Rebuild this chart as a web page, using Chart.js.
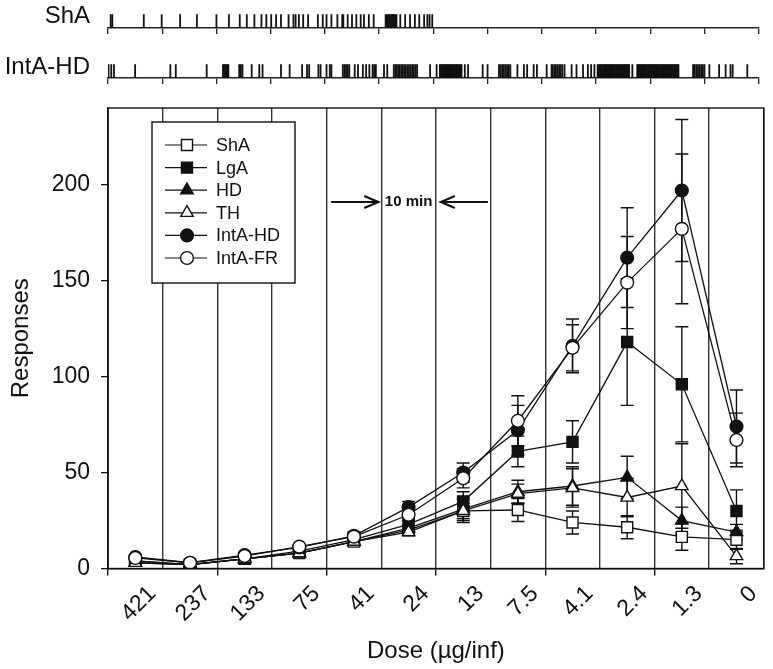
<!DOCTYPE html>
<html>
<head>
<meta charset="utf-8">
<script src="https://cdn.jsdelivr.net/npm/chart.js@4.4.1/dist/chart.umd.min.js"></script>
<style>
  html, body { margin: 0; padding: 0; background: #fff; }
  #wrap { position: relative; width: 773px; height: 669px; overflow: hidden; }
  canvas { position: absolute; left: 0; }
  .strip-label { position: absolute; font: 24px "Liberation Sans", Arial, sans-serif; color: #111; white-space: nowrap; }
</style>
</head>
<body>
<div id="wrap">
  <canvas id="mainChart" width="773" height="669" style="top:0"></canvas>
  <canvas id="shaStrip" width="773" height="45" style="top:0"></canvas>
  <canvas id="intaStrip" width="773" height="45" style="top:50px"></canvas>
  <div class="strip-label" style="right:683px; top:1px">ShA</div>
  <div class="strip-label" style="right:683px; top:52px">IntA-HD</div>
</div>
<script>
// dose per 10-min bin (descending schedule)
const doses = ["421", "237", "133", "75", "41", "24", "13", "7.5", "4.1", "2.4", "1.3", "0"];

// mean responses and SEM per group
const shaMean = [4, 2, 5, 8, 14, 20, 30, 30.5, 24, 21.5, 16.5, 15];
const shaSem = [1, 1, 1, 1, 2, 2, 4, 6, 6, 6, 7, 5];
const lgaMean = [4, 2, 5, 9, 15, 23, 35, 61, 66, 118, 96, 30];
const lgaSem = [1, 1, 1, 1.5, 2, 3, 5, 8, 11, 33, 30, 11];
const hdMean = [3, 2, 5, 8, 14, 21, 31, 40, 43, 47.5, 25, 19];
const hdSem = [1, 1, 1, 1, 2, 2, 6, 6, 10, 11, 7, 4];
const thMean = [3, 2, 5, 8, 14, 19, 30, 39, 42, 37, 43, 6.5];
const thSem = [1, 1, 1, 1, 2, 2, 6, 5, 10, 10, 22, 4];
const intaHdMean = [6, 3, 7, 11, 17, 32, 50, 72, 116, 162, 197, 74];
const intaHdSem = [1, 1, 1, 1, 2, 3, 5, 13, 14, 26, 37, 19];
const intaFrMean = [5.5, 3, 6.5, 11.4, 16.6, 28, 47, 77, 115, 149, 177, 67];
const intaFrSem = [1, 1, 1, 1, 2, 3, 5, 13, 12, 24, 39, 14];

// y ticks
const yMax = 240;
const yStep = 50;

// event records (minutes into the 120-min session)
const shaEvents = [0.5, 0.8, 6.6, 9.9, 13.3, 16.4, 20.0, 22.3, 24.3, 25.6, 27.0, 28.3, 29.2, 30.1, 31.0, 31.9,
  33.3, 34.2, 34.6, 35.2, 36.0, 36.9, 38.7, 39.6, 40.3, 41.2, 42.3, 43.2, 43.4, 44.2, 45.0, 45.8, 46.6, 47.2,
  48.1, 49.0, 51.2, 51.4, 51.6, 51.8, 52.0, 52.2, 52.4, 52.6, 52.8, 53.0, 53.2, 53.9, 54.8, 55.7, 56.6, 57.4,
  58.3, 58.9, 59.3, 59.8];
const intaHdEvents = [0.1, 0.6, 1.1, 5.0, 11.5, 12.5, 18.2, 21.2, 21.4, 21.6, 21.8, 22.0, 22.2, 24.2, 24.5, 24.8,
  26.5, 27.9, 28.5, 31.9, 33.5, 35.8, 36.7, 37.1, 38.8, 39.2,
  40.3, 40.9, 41.2, 43.3, 43.6, 43.9, 44.2, 44.5, 45.5, 46.1, 47.0, 47.6, 48.2, 48.8, 49.1, 49.4, 50.9, 51.5,
  52.7, 53.0, 53.2, 53.5, 53.8, 54.1, 54.3, 54.6, 54.9, 55.2, 55.5, 55.8, 56.1, 56.4, 56.7, 57.0,
  59.4, 60.6,
  61.2, 61.4, 61.6, 61.8, 62.0, 62.2, 62.4, 62.6, 62.8, 63.0, 63.2, 63.4, 63.6, 63.8, 64.0, 64.2, 64.4, 64.6,
  64.8, 65.0, 65.2,
  65.8, 66.4, 69.1, 70.0,
  72.1, 72.4, 72.7, 73.0, 73.3, 73.6, 73.9, 74.2,
  75.5, 76.7, 77.3, 78.5, 79.1,
  80.9, 81.8, 82.0, 82.3, 82.6, 82.9, 83.2, 83.5, 83.8, 84.2,
  85.5, 86.4, 87.6, 88.5, 89.1, 89.7,
  90.3, 90.5, 90.7, 90.9, 91.1, 91.3, 91.5, 91.7, 91.9, 92.1, 92.3, 92.5, 92.7, 92.9, 93.1, 93.3, 93.5, 93.7,
  93.9, 94.1, 94.3, 94.5, 94.7, 94.9, 95.1, 95.3, 95.5, 95.7, 95.9, 96.1,
  96.7,
  97.6, 97.8, 98.0, 98.2, 98.4, 98.6, 98.8, 99.0, 99.2, 99.4, 99.6, 99.8, 100.0, 100.2, 100.4, 100.6, 100.8,
  101.0, 101.2, 101.4, 101.6, 101.8, 102.0, 102.2, 102.4, 102.6, 102.8, 103.0, 103.2, 103.4, 103.6, 103.8,
  104.0, 104.2, 104.4, 104.6, 104.8, 105.0, 105.2,
  107.9, 108.2, 108.5, 108.8, 109.1, 109.4, 109.7, 110.0,
  110.9, 112.7, 113.9, 114.8, 115.2, 117.9];

const FONT = '"Liberation Sans", Arial, Helvetica, sans-serif';
Chart.defaults.font.family = FONT;
Chart.defaults.color = "#111";

function makeStrip(id, times) {
  return new Chart(document.getElementById(id), {
    type: "scatter",
    data: {
      datasets: [{
        data: times.map((t) => ({ x: t, y: 0.5 })),
        pointStyle: "line",
        rotation: 90,
        radius: 12.5,
        hoverRadius: 12.5,
        borderColor: "#111",
        borderWidth: 1.8,
      }],
    },
    options: {
      responsive: false,
      animation: false,
      events: [],
      layout: { padding: { left: 108, right: 5, top: 3, bottom: 0 } },
      plugins: { legend: { display: false }, tooltip: { enabled: false } },
      scales: {
        x: {
          type: "linear", min: 0, max: 120,
          afterFit: (s) => { s.height = 17; },
          ticks: { stepSize: 10, display: false },
          grid: { drawOnChartArea: false, drawTicks: true, tickLength: 6, color: "#222", lineWidth: 1.3 },
          border: { color: "#222", width: 1.4 },
        },
        y: { display: false, min: 0, max: 1 },
      },
    },
  });
}

// mean +/- SEM whiskers, drawn under the markers
const errorBars = {
  id: "errorBars",
  beforeDatasetsDraw(chart) {
    const { ctx, scales: { x, y } } = chart;
    ctx.save();
    ctx.strokeStyle = "#111";
    ctx.lineWidth = 1.4;
    chart.data.datasets.forEach((ds) => {
      ds.sem.forEach((e, i) => {
        const px = x.getPixelForValue(i);
        const top = y.getPixelForValue(ds.data[i] + e);
        const bot = y.getPixelForValue(Math.max(0, ds.data[i] - e));
        ctx.beginPath();
        ctx.moveTo(px, top); ctx.lineTo(px, bot);
        ctx.moveTo(px - 6.5, top); ctx.lineTo(px + 6.5, top);
        ctx.moveTo(px - 6.5, bot); ctx.lineTo(px + 6.5, bot);
        ctx.stroke();
      });
    });
    ctx.restore();
  },
};

// closed box around the plot
const frame = {
  id: "frame",
  afterDatasetsDraw(chart) {
    const { ctx, chartArea: a } = chart;
    ctx.save();
    ctx.strokeStyle = "#111";
    ctx.lineWidth = 1.4;
    ctx.strokeRect(a.left, a.top, a.right - a.left, a.bottom - a.top);
    ctx.restore();
  },
};

// "10 min" marker over the 24 ug bin
const tenMin = {
  id: "tenMin",
  afterDatasetsDraw(chart) {
    const { ctx, scales: { x, y } } = chart;
    const half = (x.getPixelForValue(1) - x.getPixelForValue(0)) / 2;
    const l = x.getPixelForValue(5) - half;
    const r = x.getPixelForValue(5) + half;
    const yy = y.getPixelForValue(191);
    ctx.save();
    ctx.strokeStyle = "#111";
    ctx.lineWidth = 2.2;
    ctx.beginPath();
    ctx.moveTo(l - 50, yy); ctx.lineTo(l - 3, yy);
    ctx.moveTo(l - 17, yy - 6); ctx.lineTo(l - 3, yy); ctx.lineTo(l - 17, yy + 6);
    ctx.moveTo(r + 52, yy); ctx.lineTo(r + 5, yy);
    ctx.moveTo(r + 19, yy - 6); ctx.lineTo(r + 5, yy); ctx.lineTo(r + 19, yy + 6);
    ctx.stroke();
    ctx.fillStyle = "#111";
    ctx.font = "bold 15px " + FONT;
    ctx.textAlign = "center";
    ctx.textBaseline = "middle";
    ctx.fillText("10 min", (l + r) / 2, yy);
    ctx.restore();
  },
};

// boxed legend with line + marker samples
const legendBox = {
  id: "legendBox",
  afterDraw(chart) {
    const { ctx, chartArea: a } = chart;
    const bx = a.left + 44, by = a.top + 14, bw = 143, bh = 161;
    ctx.save();
    ctx.fillStyle = "#fff";
    ctx.fillRect(bx, by, bw, bh);
    ctx.strokeStyle = "#111";
    ctx.lineWidth = 1.4;
    ctx.strokeRect(bx, by, bw, bh);
    chart.data.datasets.forEach((ds, i) => {
      const yy = by + 23 + i * 22.6;
      ctx.strokeStyle = "#111";
      ctx.lineWidth = 1.2;
      ctx.beginPath();
      ctx.moveTo(bx + 13, yy); ctx.lineTo(bx + 55, yy);
      ctx.stroke();
      ctx.fillStyle = ds.pointBackgroundColor;
      ctx.strokeStyle = "#111";
      ctx.lineWidth = ds.pointBorderWidth;
      Chart.helpers.drawPoint(ctx, { pointStyle: ds.pointStyle, radius: ds.pointRadius, rotation: 0, borderWidth: ds.pointBorderWidth }, bx + 35, yy);
      ctx.fillStyle = "#111";
      ctx.font = "18px " + FONT;
      ctx.textAlign = "left";
      ctx.textBaseline = "middle";
      ctx.fillText(ds.label, bx + 64, yy + 1);
    });
    ctx.restore();
  },
};

function series(label, data, sem, style, filled, radius, order) {
  return {
    label, data, sem, order,
    borderColor: "#111",
    borderWidth: 1.3,
    tension: 0,
    pointStyle: style,
    pointRadius: radius,
    pointHoverRadius: radius,
    pointBackgroundColor: filled ? "#111" : "#fff",
    pointBorderColor: "#111",
    pointBorderWidth: 1.4,
  };
}

new Chart(document.getElementById("mainChart"), {
  type: "line",
  data: {
    labels: doses,
    datasets: [
      series("ShA", shaMean, shaSem, "rect", false, 7.8, 5),
      series("LgA", lgaMean, lgaSem, "rect", true, 7.8, 4),
      series("HD", hdMean, hdSem, "triangle", true, 7.2, 3),
      series("TH", thMean, thSem, "triangle", false, 7.2, 2),
      series("IntA-HD", intaHdMean, intaHdSem, "circle", true, 6.4, 1),
      series("IntA-FR", intaFrMean, intaFrSem, "circle", false, 6.4, 0),
    ],
  },
  options: {
    responsive: false,
    animation: false,
    events: [],
    layout: { padding: { left: 0, right: 5, top: 108, bottom: 0 } },
    plugins: { legend: { display: false }, tooltip: { enabled: false } },
    scales: {
      x: {
        type: "category",
        offset: true,
        afterFit: (s) => { s.height = 100.5; },
        grid: {
          offset: true,
          drawOnChartArea: true,
          color: "#333",
          lineWidth: 1.4,
          tickLength: 7,
          tickColor: (c) => (c.index % 2 === 0 ? "#111" : "rgba(0,0,0,0)"),
        },
        border: { color: "#111", width: 1.4 },
        ticks: {
          autoSkip: false,
          minRotation: 45,
          maxRotation: 45,
          labelOffset: 17,
          padding: 5,
          font: { size: 23 },
        },
        title: {
          display: true,
          text: "Dose (µg/inf)",
          font: { size: 24 },
          padding: { top: 0, bottom: 3 },
        },
      },
      y: {
        min: 0,
        max: yMax,
        afterFit: (s) => { s.width = 108; },
        grid: { drawOnChartArea: false, drawTicks: true, tickLength: 7, color: "#111", lineWidth: 1.3 },
        border: { color: "#111", width: 1.4 },
        ticks: { stepSize: yStep, includeBounds: false, padding: 11, font: { size: 23 } },
        title: {
          display: true,
          text: "Responses",
          font: { size: 24 },
          padding: { top: 7, bottom: 0 },
        },
      },
    },
  },
  plugins: [errorBars, frame, tenMin, legendBox],
});

makeStrip("shaStrip", shaEvents);
makeStrip("intaStrip", intaHdEvents);
</script>
</body>
</html>
